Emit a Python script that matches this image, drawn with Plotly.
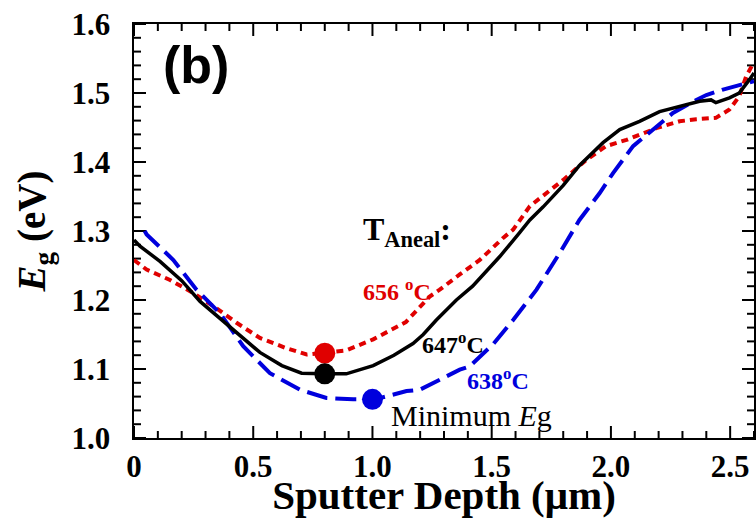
import numpy as np
import plotly.graph_objects as go

# Band-gap depth profiles for three annealing temperatures
depth_647 = [0, 0.025, 0.109, 0.20, 0.277, 0.40, 0.528, 0.62, 0.703, 0.796, 0.89, 1.003,
             1.09, 1.17, 1.213, 1.268, 1.352, 1.42, 1.464, 1.534, 1.618, 1.66, 1.716,
             1.80, 1.868, 1.92, 1.967, 2.037, 2.12, 2.204, 2.288, 2.372, 2.42, 2.44,
             2.497, 2.538, 2.58, 2.6]
eg_647 = [1.287, 1.278, 1.256, 1.228, 1.198, 1.162, 1.124, 1.105, 1.094, 1.093, 1.093, 1.105,
          1.12, 1.137, 1.150, 1.171, 1.200, 1.22, 1.236, 1.263, 1.298, 1.316, 1.335,
          1.366, 1.395, 1.412, 1.428, 1.447, 1.459, 1.473, 1.481, 1.488, 1.490, 1.486,
          1.493, 1.500, 1.519, 1.529]

depth_656 = [0, 0.053, 0.151, 0.249, 0.346, 0.43, 0.528, 0.64, 0.724, 0.796, 0.89, 1.003,
             1.14, 1.24, 1.282, 1.366, 1.45, 1.548, 1.59, 1.66, 1.73, 1.80, 1.897, 1.98,
             2.065, 2.19, 2.288, 2.358, 2.44, 2.497, 2.538, 2.567, 2.6]
eg_656 = [1.258, 1.244, 1.229, 1.21, 1.188, 1.167, 1.145, 1.130, 1.121, 1.123, 1.127, 1.143,
          1.168, 1.205, 1.215, 1.237, 1.258, 1.29, 1.302, 1.336, 1.355, 1.374, 1.403, 1.423,
          1.432, 1.449, 1.459, 1.462, 1.464, 1.476, 1.495, 1.524, 1.545]

depth_638 = [0.045, 0.053, 0.165, 0.262, 0.36, 0.458, 0.57, 0.696, 0.807, 0.919, 1.01, 1.143,
             1.199, 1.282, 1.366, 1.408, 1.506, 1.59, 1.688, 1.785, 1.868, 1.953, 2.009,
             2.093, 2.177, 2.26, 2.358, 2.40, 2.47, 2.54, 2.6]
eg_638 = [1.30, 1.295, 1.258, 1.215, 1.181, 1.133, 1.094, 1.07, 1.058, 1.056, 1.056, 1.068,
          1.07, 1.085, 1.099, 1.104, 1.136, 1.171, 1.215, 1.268, 1.316, 1.355, 1.384,
          1.423, 1.447, 1.471, 1.49, 1.497, 1.505, 1.511, 1.517]

# Minimum band-gap positions
min_depth = [0.8, 0.8, 1.0]
min_eg = [1.123, 1.093, 1.056]
min_colors = ["#e00000", "#000000", "#0000dd"]

x_tickvals = [0, 0.5, 1.0, 1.5, 2.0, 2.5]
x_ticktext = ["0", "0.5", "1.0", "1.5", "2.0", "2.5"]
y_tickvals = [1.0, 1.1, 1.2, 1.3, 1.4, 1.5, 1.6]
y_ticktext = ["1.0", "1.1", "1.2", "1.3", "1.4", "1.5", "1.6"]

X_RANGE = [0, 2.6]
Y_RANGE = [1.0, 1.6]
x_minor = [v for v in np.round(np.arange(0, 2.61, 0.1), 2).tolist() if v not in x_tickvals]
y_minor = [v for v in np.round(np.arange(1.0, 1.601, 0.02), 3).tolist()
           if round(v, 2) not in y_tickvals]

RED = "#e00000"
BLUE = "#0000dd"
SERIF = "Liberation Serif"

W, H = 756, 518
M = dict(l=134, r=2, t=24, b=80)
plot_w = W - M["l"] - M["r"]
plot_h = H - M["t"] - M["b"]

# Inward tick marks on all four frame edges, as one segmented line trace
x_per_px = (X_RANGE[1] - X_RANGE[0]) / plot_w
y_per_px = (Y_RANGE[1] - Y_RANGE[0]) / plot_h
tick_x, tick_y = [], []
for vals, px in ((x_tickvals, 12), (x_minor, 7)):
    d = px * y_per_px
    for v in vals:
        tick_x += [v, v, None, v, v, None]
        tick_y += [Y_RANGE[0], Y_RANGE[0] + d, None, Y_RANGE[1], Y_RANGE[1] - d, None]
for vals, px in ((y_tickvals, 12), (y_minor, 7)):
    d = px * x_per_px
    for v in vals:
        tick_x += [X_RANGE[0], X_RANGE[0] + d, None, X_RANGE[1], X_RANGE[1] - d, None]
        tick_y += [v, v, None, v, v, None]

fig = go.Figure(layout=dict(template="none"))
fig.add_trace(go.Scatter(x=tick_x, y=tick_y, mode="lines", connectgaps=False,
                         line=dict(color="black", width=2), hoverinfo="skip",
                         cliponaxis=False, showlegend=False))
fig.add_trace(go.Scatter(x=depth_656, y=eg_656, mode="lines",
                         line=dict(color=RED, width=4, dash="7px,5px"),
                         showlegend=False))
fig.add_trace(go.Scatter(x=depth_638, y=eg_638, mode="lines",
                         line=dict(color=BLUE, width=4, dash="21px,8px"),
                         showlegend=False))
fig.add_trace(go.Scatter(x=depth_647, y=eg_647, mode="lines",
                         line=dict(color="black", width=3.5),
                         showlegend=False))
fig.add_trace(go.Scatter(x=min_depth, y=min_eg, mode="markers",
                         marker=dict(color=min_colors, size=21, line=dict(width=0)),
                         showlegend=False))

annotations = [
    dict(x=0.115, y=1.541, text="<b>(b)</b>",
         font=dict(family="Liberation Sans", size=52, color="black")),
    dict(x=0.952, y=1.299, text="<b>T<sub>Aneal</sub>:</b>",
         font=dict(family=SERIF, size=32, color="black")),
    dict(x=0.950, y=1.215, text="<b>656 <sup>o</sup>C</b>",
         font=dict(family=SERIF, size=24, color=RED)),
    dict(x=1.200, y=1.138, text="<b>647<sup>o</sup>C</b>",
         font=dict(family=SERIF, size=24, color="black")),
    dict(x=1.390, y=1.085, text="<b>638<sup>o</sup>C</b>",
         font=dict(family=SERIF, size=24, color=BLUE)),
    dict(x=1.070, y=1.032, text="Minimum <i>E</i>g",
         font=dict(family=SERIF, size=30, color="black")),
]
for a in annotations:
    a.update(xref="x", yref="y", xanchor="left", yanchor="middle", showarrow=False)

fig.update_layout(
    width=W, height=H, margin=M,
    paper_bgcolor="white", plot_bgcolor="white",
    annotations=annotations,
    xaxis=dict(
        range=X_RANGE, tickmode="array", tickvals=x_tickvals,
        ticktext=["<b>%s</b>" % t for t in x_ticktext], ticks="",
        showline=True, linewidth=2, linecolor="black", mirror=True,
        showgrid=False, zeroline=False,
        tickfont=dict(family=SERIF, size=31, color="black"),
        title=dict(text="<b>Sputter Depth (μm)</b>", standoff=4,
                   font=dict(family=SERIF, size=41, color="black")),
    ),
    yaxis=dict(
        range=Y_RANGE, tickmode="array", tickvals=y_tickvals,
        ticktext=["<b>%s</b>\u2002" % t for t in y_ticktext], ticks="",
        showline=True, linewidth=2, linecolor="black", mirror=True,
        showgrid=False, zeroline=False,
        tickfont=dict(family=SERIF, size=31, color="black"),
        title=dict(text="<b><i>E</i><sub>g</sub> (eV)</b>", standoff=14,
                   font=dict(family=SERIF, size=39, color="black")),
    ),
)

fig.write_html("out.html")
